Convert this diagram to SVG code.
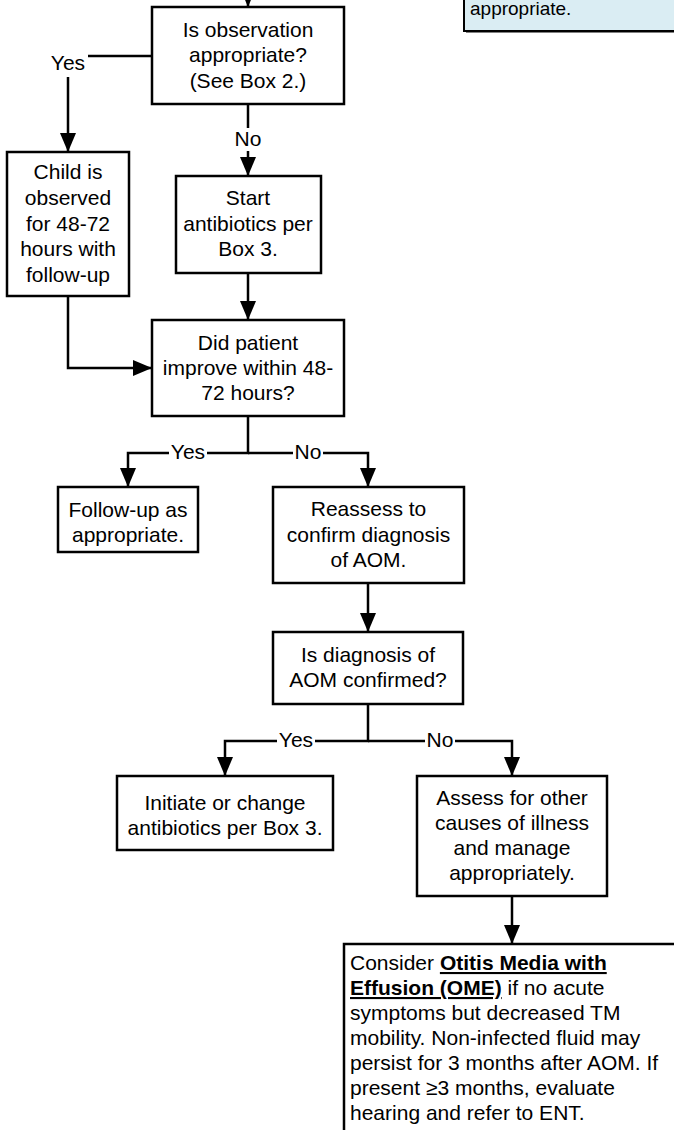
<svg xmlns="http://www.w3.org/2000/svg" width="674" height="1130" viewBox="0 0 674 1130">
<style>
.box{fill:#fff;stroke:#000;stroke-width:2.5}
.t{font-family:"Liberation Sans",Arial,sans-serif;font-size:21px;fill:#000;text-anchor:middle}
.tl{font-family:"Liberation Sans",Arial,sans-serif;font-size:21px;fill:#000}
.c{fill:none;stroke:#000;stroke-width:2.5}
.lbl{fill:#fff;stroke:none}
.b{font-weight:bold;text-decoration:underline}
</style>
<defs>
<marker id="ah" viewBox="0 0 19 16" refX="19" refY="8" markerWidth="19" markerHeight="16" markerUnits="userSpaceOnUse" orient="auto">
<path d="M0,0 L19,8 L0,16 z" fill="#000"/>
</marker>
</defs>
<rect width="674" height="1130" fill="#fff"/>

<g id="note-top">
<rect x="466" y="-100" width="220" height="133" fill="#808080"/>
<rect x="464" y="-100" width="220" height="131" fill="#DAEDF3" stroke="#000" stroke-width="2"/>
<text class="tl" x="470" y="15" style="font-size:19px">appropriate.</text>
</g>

<g id="connectors">
<path class="c" d="M248,-20 V7" marker-end="url(#ah)"/>
<path class="c" d="M152,56 H68 V152" marker-end="url(#ah)"/>
<path class="c" d="M248,104 V176" marker-end="url(#ah)"/>
<path class="c" d="M248,273 V320" marker-end="url(#ah)"/>
<path class="c" d="M68,296 V368 H152" marker-end="url(#ah)"/>
<path class="c" d="M248,416 V453 H128 V487" marker-end="url(#ah)"/>
<path class="c" d="M248,453 H368 V487" marker-end="url(#ah)"/>
<path class="c" d="M368,583 V632" marker-end="url(#ah)"/>
<path class="c" d="M368,704 V741 H225 V776" marker-end="url(#ah)"/>
<path class="c" d="M368,741 H512 V776" marker-end="url(#ah)"/>
<path class="c" d="M512,896 V944" marker-end="url(#ah)"/>
<rect class="lbl" x="48" y="50" width="40" height="27"/>
<text class="t" x="68" y="69.5">Yes</text>
<rect class="lbl" x="233" y="128" width="30" height="23"/>
<text class="t" x="248" y="146">No</text>
<rect class="lbl" x="169" y="441" width="38" height="24"/>
<text class="t" x="188" y="459">Yes</text>
<rect class="lbl" x="293" y="441" width="30" height="24"/>
<text class="t" x="308" y="459">No</text>
<rect class="lbl" x="277" y="729" width="38" height="24"/>
<text class="t" x="296" y="747">Yes</text>
<rect class="lbl" x="425" y="729" width="30" height="24"/>
<text class="t" x="440" y="747">No</text>
</g>

<g id="observe-q">
<rect class="box" x="152" y="7" width="192" height="97"/>
<text class="t" x="248" y="37">Is observation</text>
<text class="t" x="248" y="62">appropriate?</text>
<text class="t" x="248" y="87.5">(See Box 2.)</text>
</g>

<g id="child-observed">
<rect class="box" x="7" y="152" width="122" height="144"/>
<text class="t" x="68" y="179">Child is</text>
<text class="t" x="68" y="205">observed</text>
<text class="t" x="68" y="230.5">for 48-72</text>
<text class="t" x="68" y="256">hours with</text>
<text class="t" x="68" y="281.5">follow-up</text>
</g>

<g id="start-antibiotics">
<rect class="box" x="176" y="176" width="145" height="97"/>
<text class="t" x="248" y="205">Start</text>
<text class="t" x="248" y="230.5">antibiotics per</text>
<text class="t" x="248" y="256">Box 3.</text>
</g>

<g id="improve-q">
<rect class="box" x="152" y="320" width="192" height="96"/>
<text class="t" x="248" y="349.5">Did patient</text>
<text class="t" x="248" y="375">improve within 48-</text>
<text class="t" x="248" y="400">72 hours?</text>
</g>

<g id="follow-up">
<rect class="box" x="58" y="487" width="140" height="65"/>
<text class="t" x="128" y="517">Follow-up as</text>
<text class="t" x="128" y="542">appropriate.</text>
</g>

<g id="reassess">
<rect class="box" x="273" y="487" width="191" height="96"/>
<text class="t" x="368.5" y="516">Reassess to</text>
<text class="t" x="368.5" y="541.5">confirm diagnosis</text>
<text class="t" x="368.5" y="567">of AOM.</text>
</g>

<g id="confirmed-q">
<rect class="box" x="273" y="632" width="190" height="72"/>
<text class="t" x="368" y="662">Is diagnosis of</text>
<text class="t" x="368" y="687">AOM confirmed?</text>
</g>

<g id="initiate">
<rect class="box" x="117" y="776" width="216" height="74"/>
<text class="t" x="225" y="810">Initiate or change</text>
<text class="t" x="225" y="835">antibiotics per Box 3.</text>
</g>

<g id="assess-other">
<rect class="box" x="417" y="776" width="190" height="120"/>
<text class="t" x="512" y="805">Assess for other</text>
<text class="t" x="512" y="830">causes of illness</text>
<text class="t" x="512" y="855">and manage</text>
<text class="t" x="512" y="880">appropriately.</text>
</g>

<g id="ome-note">
<rect class="box" x="344" y="944" width="360" height="220"/>
<text class="tl" x="350" y="970">Consider <tspan class="b">Otitis Media with</tspan></text>
<text class="tl" x="350" y="995"><tspan class="b">Effusion (OME)</tspan> if no acute</text>
<text class="tl" x="350" y="1020">symptoms but decreased TM</text>
<text class="tl" x="350" y="1045">mobility. Non-infected fluid may</text>
<text class="tl" x="350" y="1070">persist for 3 months after AOM. If</text>
<text class="tl" x="350" y="1095">present ≥3 months, evaluate</text>
<text class="tl" x="350" y="1120">hearing and refer to ENT.</text>
</g>
</svg>
